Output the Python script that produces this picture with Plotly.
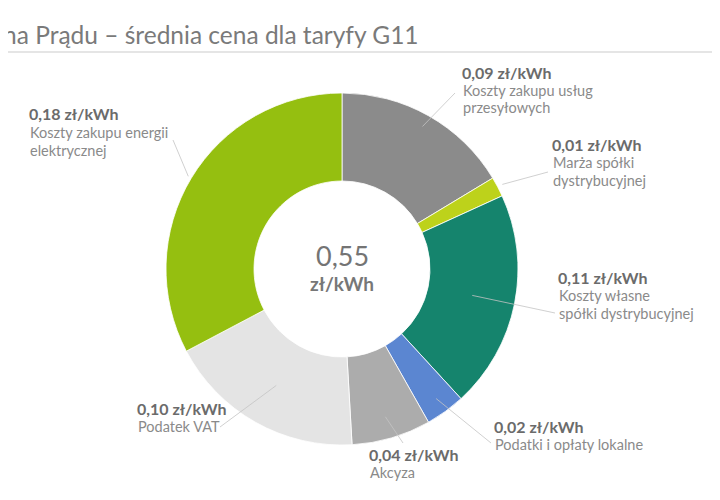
import math
import plotly.graph_objects as go

W, H = 720, 500

# data
categories = [
    "Koszty zakupu usług przesyłowych",
    "Marża spółki dystrybucyjnej",
    "Koszty własne spółki dystrybucyjnej",
    "Podatki i opłaty lokalne",
    "Akcyza",
    "Podatek VAT",
    "Koszty zakupu energii elektrycznej",
]
values = [0.09, 0.01, 0.11, 0.02, 0.04, 0.10, 0.18]
value_labels = ["0,09 zł/kWh", "0,01 zł/kWh", "0,11 zł/kWh", "0,02 zł/kWh",
                "0,04 zł/kWh", "0,10 zł/kWh", "0,18 zł/kWh"]
desc_labels = [
    "Koszty zakupu usług<br>przesyłowych",
    "Marża spółki<br>dystrybucyjnej",
    "Koszty własne<br>spółki dystrybucyjnej",
    "Podatki i opłaty lokalne",
    "Akcyza",
    "Podatek VAT",
    "Koszty zakupu energii<br>elektrycznej",
]
total_label = "0,55"
unit_label = "zł/kWh"
title_text = "Cena Prądu – średnia cena dla taryfy G11"

colors = ["#8b8b8b", "#bdd21b", "#15846d", "#5b86d1", "#acacac", "#e4e4e4", "#95bf10"]

# layout (pixels in the screenshot)
cx, cy, R = 342, 269, 176
label_xy = [(461, 72), (551, 144), (557, 277), (493, 426), (368, 454), (136, 408), (28, 114)]
leader_out = [(455, 93), (548, 172), (555, 313), (491, 443), (403, 443), (220, 427), (173, 140)]
leader_r = [0.93, 1.03, 0.755, 0.91, 0.875, 0.76, 1.02]
FIRST_GAP = 18.5
LINE_GAP = 17.5

FONT = "Lato, 'Noto Sans', sans-serif"
OFF = 8  # page body margin


def px(x):
    return (x - OFF) / W


def py(y):
    return 1 - (y - OFF) / H


fig = go.Figure(go.Pie(
    labels=categories,
    values=values,
    hole=0.5,
    sort=False,
    direction="clockwise",
    rotation=0,
    marker=dict(colors=colors, line=dict(color="white", width=0.8)),
    textinfo="none",
    hoverinfo="label+value",
    showlegend=False,
    domain=dict(x=[px(cx - R), px(cx + R)], y=[py(cy + R), py(cy - R)]),
))

total = sum(values)
shapes = []
annotations = []
cum = 0
for i, v in enumerate(values):
    mid = (cum + v / 2) / total * 2 * math.pi
    cum += v
    r = R * leader_r[i]
    ix = cx + r * math.sin(mid)
    iy = cy - r * math.cos(mid)
    ox, oy = leader_out[i]
    shapes.append(dict(type="line", xref="paper", yref="paper",
                       x0=px(ix), y0=py(iy), x1=px(ox), y1=py(oy),
                       line=dict(color="#c4c4c4", width=0.8)))
    lx, ly = label_xy[i]
    annotations.append(dict(x=px(lx), y=py(ly), xref="paper", yref="paper",
                            text="<b>" + value_labels[i] + "</b>", showarrow=False,
                            xanchor="left", yanchor="middle", align="left", borderpad=0,
                            font=dict(family=FONT, size=16, color="#6b6b6b")))
    for k, line in enumerate(desc_labels[i].split("<br>")):
        annotations.append(dict(x=px(lx + 1), y=py(ly + FIRST_GAP + LINE_GAP * k),
                                xref="paper", yref="paper",
                                text=line, showarrow=False, borderpad=0,
                                xanchor="left", yanchor="middle", align="left",
                                font=dict(family=FONT, size=14.5, color="#8a8a8a")))

# centre text
annotations.append(dict(x=px(cx), y=py(255), xref="paper", yref="paper", text=total_label,
                        showarrow=False, xanchor="center", yanchor="middle",
                        font=dict(family=FONT, size=27, color="#747474")))
annotations.append(dict(x=px(cx), y=py(283), xref="paper", yref="paper",
                        text="<b>" + unit_label + "</b>",
                        showarrow=False, xanchor="center", yanchor="middle",
                        font=dict(family=FONT, size=19, color="#777777")))

# title (cut off at the left edge like the original)
annotations.append(dict(x=px(-28), y=py(34), xref="paper", yref="paper", text=title_text,
                        showarrow=False, xanchor="left", yanchor="middle",
                        font=dict(family=FONT, size=24.5, color="#7a7a7a")))
shapes.append(dict(type="line", xref="paper", yref="paper", x0=0, x1=1,
                   y0=py(52), y1=py(52), line=dict(color="#cccccc", width=1.2)))

fig.update_layout(
    width=W, height=H,
    margin=dict(l=0, r=0, t=0, b=0),
    paper_bgcolor="white",
    plot_bgcolor="white",
    shapes=shapes,
    annotations=annotations,
)

fig.write_html("out.html")
